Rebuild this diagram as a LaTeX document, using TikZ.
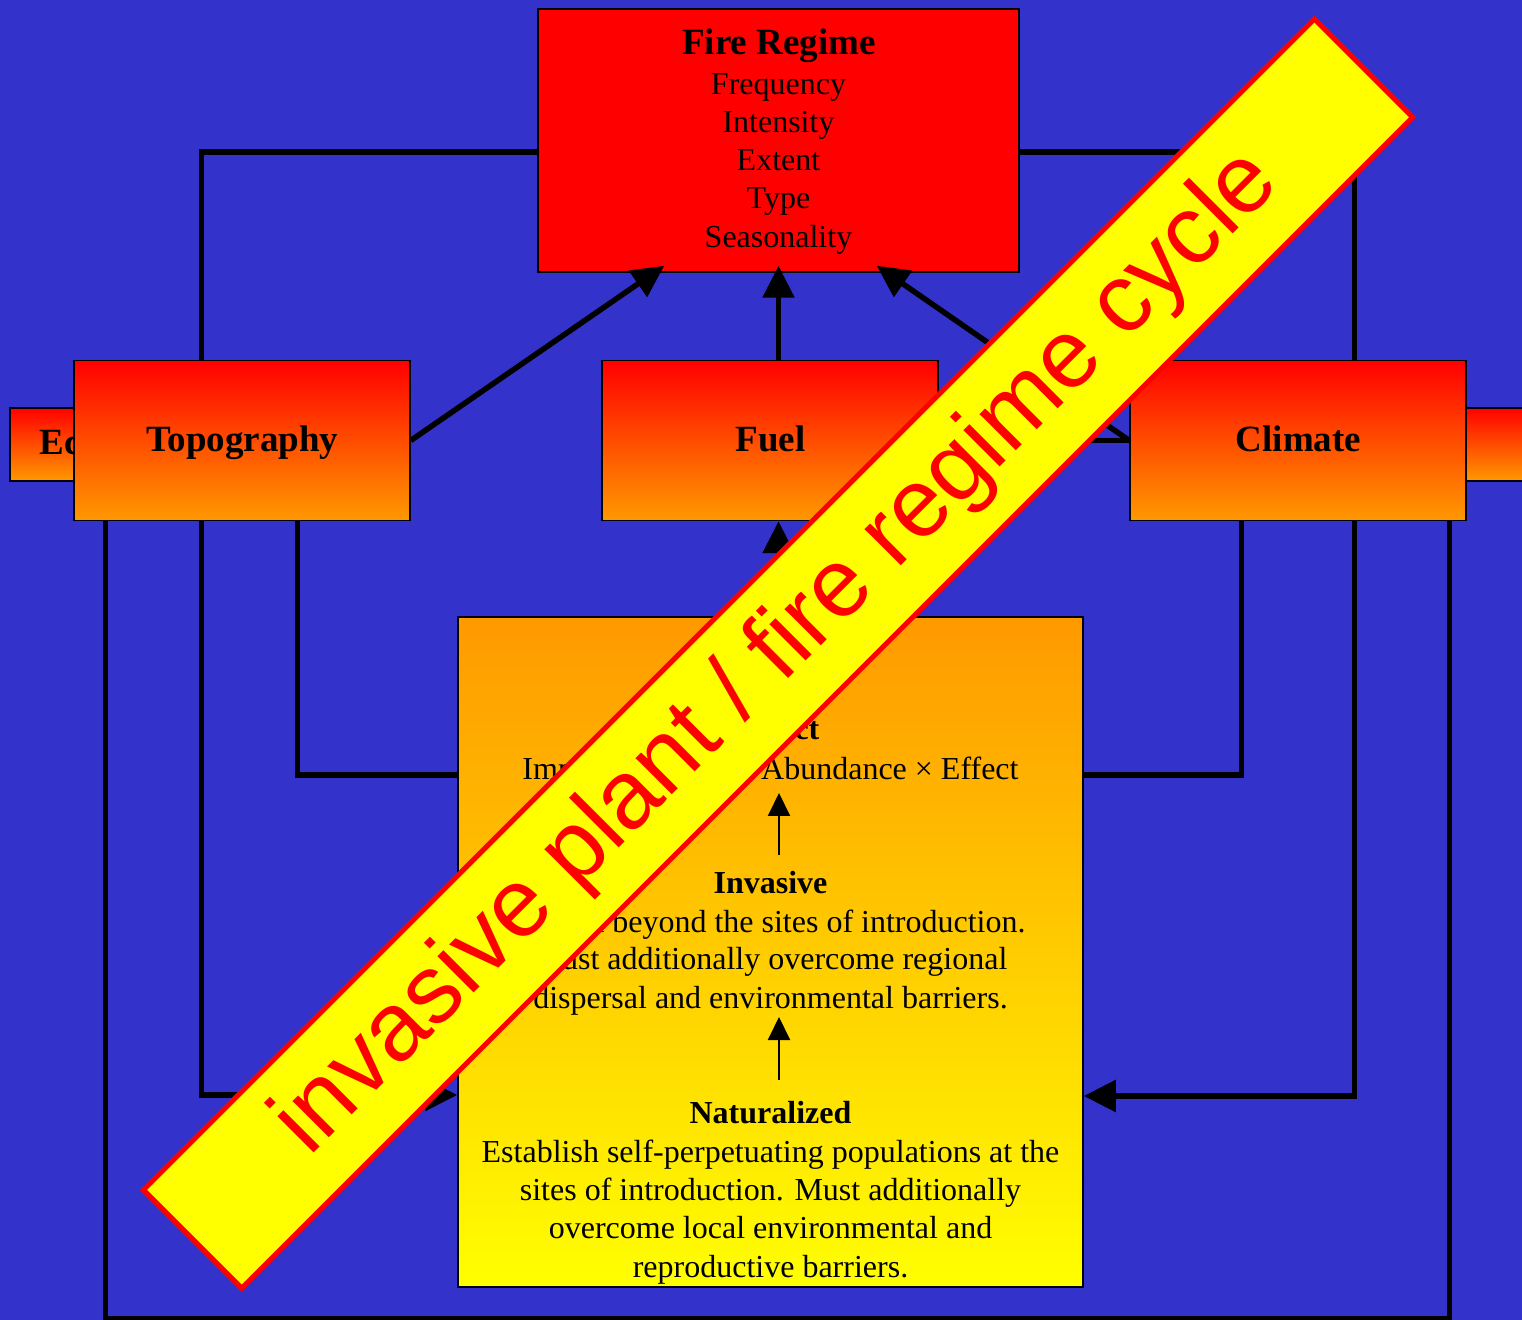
\documentclass[tikz,border=0pt]{standalone}
\usepackage{fontspec}
\setmainfont{Liberation Serif}
\newfontfamily\bannerfont{Liberation Sans}
\usetikzlibrary{arrows.meta,calc}
\definecolor{bgblue}{RGB}{51,51,204}
\definecolor{orng}{RGB}{255,153,0}
\definecolor{fred}{RGB}{255,0,0}
\definecolor{fyel}{RGB}{255,255,0}
\begin{document}
\begin{tikzpicture}[x=0.5pt,y=-0.5pt,
  box/.style={draw=black,line width=0.75pt,inner sep=0pt,rectangle},
  hotbox/.style={box,top color=fred,bottom color=orng},
  conn/.style={line width=2.75pt,draw=black},
  bigarrow/.style={conn,-{Triangle[length=16pt,width=15.5pt]}},
  smallarrow/.style={line width=1pt,draw=black,-{Triangle[length=11.5pt,width=11pt]}},
  ttl/.style={font=\fontsize{18.5}{22}\selectfont\bfseries,anchor=base,inner sep=0pt},
  sub/.style={font=\fontsize{16}{19}\selectfont\bfseries,anchor=base,inner sep=0pt},
  txt/.style={font=\fontsize{16}{19}\selectfont,anchor=base,inner sep=0pt},
]
\useasboundingbox (0,0) rectangle (1522,1320);
\fill[bgblue] (0,0) rectangle (1522,1320);

% side boxes (partly hidden)
\node[hotbox,minimum width=95pt,minimum height=36.5pt] (eco) at (105,444.5) {};
\node[ttl,anchor=base west] (ecot) at (39,455) {Ec};
\node[hotbox,minimum width=80pt,minimum height=36.5pt] (rbox) at (1450,444.5) {};

% main boxes
\node[box,fill=fred,minimum width=240.5pt,minimum height=131.5pt] (fr) at (778.5,140.5) {};
\node[hotbox,minimum width=168pt,minimum height=80pt] (topo) at (242,440.5) {};
\node[hotbox,minimum width=168pt,minimum height=80pt] (fuel) at (770,440.5) {};
\node[hotbox,minimum width=168pt,minimum height=80pt] (clim) at (1298,440.5) {};
\node[box,top color=orng,bottom color=fyel,minimum width=312.5pt,minimum height=335pt] (imp) at (770.5,952) {};

% texts
\node[ttl] (frt) at (779,55) {Fire Regime};
\node[txt] (fr1) at (778.5,94.3) {Frequency};
\node[txt] (fr2) at (778.5,132.7) {Intensity};
\node[txt] (fr3) at (778.5,170.7) {Extent};
\node[txt] (fr4) at (778.5,209) {Type};
\node[txt] (fr5) at (778.5,247.7) {Seasonality};
\node[ttl] (topot) at (242.5,452) {Topography};
\node[ttl] (fuelt) at (770.5,452) {Fuel};
\node[ttl] (climt) at (1298.5,452) {Climate};

\node[sub] (impt) at (770.5,740) {Impact};
\node[txt] (imp1) at (770.5,780) {Impact = Range × Abundance × Effect};
\node[sub] (invt) at (770.5,893) {Invasive};
\node[txt] (inv1) at (770.5,932) {Spread beyond the sites of introduction.};
\node[txt] (inv2) at (770.5,970) {Must additionally overcome regional};
\node[txt] (inv3) at (770.5,1008) {dispersal and environmental barriers.};
\node[sub] (natt) at (770.5,1123) {Naturalized};
\node[txt] (nat1) at (770.5,1162) {Establish self-perpetuating populations at the};
\node[txt] (nat2) at (770.5,1200) {sites of introduction. Must additionally};
\node[txt] (nat3) at (770.5,1238) {overcome local environmental and};
\node[txt] (nat4) at (770.5,1277) {reproductive barriers.};

% inner arrows
\coordinate (ia1s) at (779,855);
\coordinate (ia1e) at (779,793);
\coordinate (ia2s) at (779,1080);
\coordinate (ia2e) at (779,1017);
\draw[smallarrow] (ia1s) -- (ia1e);
\draw[smallarrow] (ia2s) -- (ia2e);

% connectors
\draw[conn] ($(topo.north west)+(128,0)$) |- ($(fr.west)+(0,11.5)$);
\draw[conn] ($(fr.east)+(0,11.5)$) -| ($(clim.north west)+(225,0)$);
\draw[bigarrow] (topo.east) -- ($(fr.south west)+(127,-7)$);
\draw[bigarrow] (fr.south |- fuel.north) -- ($(fr.south)+(0,-7)$);
\draw[bigarrow] (clim.west) -- ($(fr.south east)+(-143,-7)$);
\draw[conn] (fuel.east) -- (clim.west);
\draw[bigarrow] (imp.north -| fr.south) -- (fuel.south -| fr.south);
\draw[conn] ($(topo.south west)+(32,0)$) -- ++(0,797) -| ($(clim.south west)+(320,0)$);
\draw[bigarrow] ($(topo.south west)+(128,0)$) |- ($(imp.west)+(0,143)$);
\draw[conn] ($(topo.south west)+(224,0)$) |- ($(imp.west)+(0,-177)$);
\draw[conn] ($(clim.south west)+(112,0)$) |- ($(imp.east)+(0,-177)$);
\draw[bigarrow] ($(clim.south west)+(225,0)$) |- ($(imp.east)+(0,144)$);

% banner
\node[rotate=45,minimum width=828pt,minimum height=69.5pt,inner sep=0pt,
      fill=fyel,draw=fred,line width=2.5pt,text=fred,
      font=\bannerfont\fontsize{48.5}{52}\selectfont] (banner) at (778,653.5)
      {invasive plant / fire regime cycle};
\end{tikzpicture}
\end{document}
